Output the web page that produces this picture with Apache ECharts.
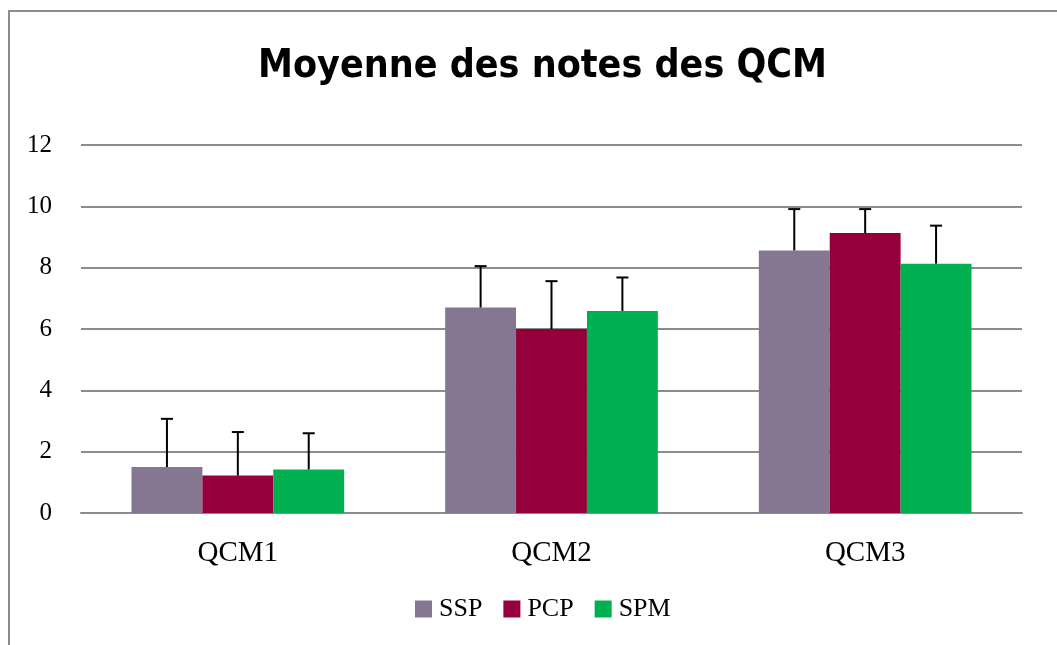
<!DOCTYPE html>
<html>
<head>
<meta charset="utf-8">
<script src="https://cdn.jsdelivr.net/npm/echarts@6/dist/echarts.min.js"></script>
<style>
  html, body { margin: 0; padding: 0; background: #fff; }
  #chart { width: 1057px; height: 645px; }
</style>
</head>
<body>
<div id="chart"></div>
<script>
const categories = ['QCM1', 'QCM2', 'QCM3'];
const seriesNames = ['SSP', 'PCP', 'SPM'];
const ssp = [1.50, 6.70, 8.56];
const pcp = [1.22, 6.00, 9.13];
const spm = [1.42, 6.59, 8.13];
// upper end of each error bar
const sspErr = [3.07, 8.05, 9.91];
const pcpErr = [2.64, 7.56, 9.91];
const spmErr = [2.60, 7.68, 9.37];
const yTicks = [0, 2, 4, 6, 8, 10, 12];

const colors = ['#857791', '#95003c', '#00b050'];
const values = [ssp, pcp, spm];
const errors = [sspErr, pcpErr, spmErr];
const BAR_FRAC = 0.226;
const serif = '"Liberation Serif", "DejaVu Serif", serif';

const chart = echarts.init(document.getElementById('chart'));

const barSeries = seriesNames.map((name, i) => ({
  name,
  type: 'bar',
  data: values[i],
  barWidth: (BAR_FRAC * 100) + '%',
  barGap: '0%',
  itemStyle: { color: colors[i] },
  z: 2
}));

const errSeries = seriesNames.map((name, i) => ({
  type: 'custom',
  name: name + '-err',
  data: categories.map((c, k) => [k, values[i][k], errors[i][k]]),
  z: 5,
  silent: true,
  renderItem: function (params, api) {
    const k = api.value(0);
    const band = api.size([1, 0])[0];
    const bw = band * BAR_FRAC;
    const base = api.coord([k, api.value(1)]);
    const top = api.coord([k, api.value(2)]);
    const x = base[0] + (i - 1) * bw;
    const style = { stroke: '#000', lineWidth: 2 };
    return {
      type: 'group',
      children: [
        { type: 'line', shape: { x1: x, y1: base[1], x2: x, y2: top[1] }, style },
        { type: 'line', shape: { x1: x - 6, y1: top[1], x2: x + 6, y2: top[1] }, style }
      ]
    };
  }
}));

chart.setOption({
  animation: false,
  backgroundColor: '#fff',
  graphic: [{
    type: 'rect',
    shape: { x: 9, y: 11, width: 1100, height: 700 },
    style: { fill: 'none', stroke: '#8c8c8c', lineWidth: 2 },
    z: -1
  }],
  title: {
    text: 'Moyenne des notes des QCM',
    left: 253,
    top: 42,
    textStyle: {
      fontFamily: '"DejaVu Sans Condensed", "DejaVu Sans", sans-serif',
      fontWeight: 'bold',
      fontSize: 39,
      color: '#000'
    }
  },
  legend: {
    data: seriesNames,
    bottom: 18,
    left: 410,
    itemWidth: 17,
    itemHeight: 17,
    itemGap: 21,
    icon: 'rect',
    textStyle: { fontFamily: serif, fontSize: 26, color: '#000', padding: [0, 0, 0, 2] }
  },
  grid: { left: 81, right: 35, top: 145, bottom: 132, containLabel: false },
  xAxis: {
    type: 'category',
    data: categories,
    axisLine: { show: true, lineStyle: { color: '#8c8c8c', width: 2 } },
    axisTick: { show: false },
    axisLabel: { fontFamily: serif, fontSize: 29, color: '#000', margin: 26 }
  },
  yAxis: {
    type: 'value',
    min: yTicks[0],
    max: yTicks[yTicks.length - 1],
    interval: 2,
    axisLine: { show: false },
    axisTick: { show: false },
    axisLabel: { fontFamily: serif, fontSize: 25, color: '#000', margin: 29 },
    splitLine: { lineStyle: { color: '#8c8c8c', width: 2 } }
  },
  series: barSeries.concat(errSeries)
});
</script>
</body>
</html>
